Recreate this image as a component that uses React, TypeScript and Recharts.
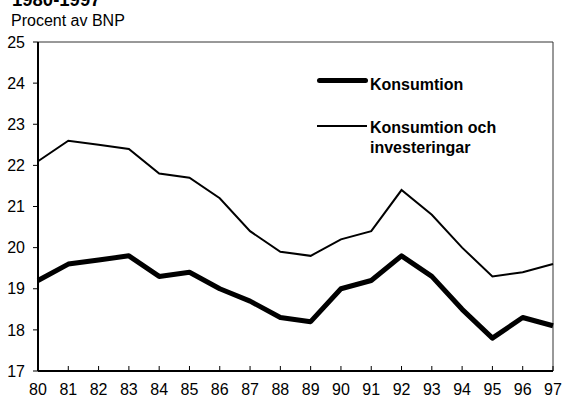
import { LineChart, Line, XAxis, YAxis, ReferenceLine, Legend } from 'recharts';

const years = [80, 81, 82, 83, 84, 85, 86, 87, 88, 89, 90, 91, 92, 93, 94, 95, 96, 97];
const konsumtion = [19.2, 19.6, 19.7, 19.8, 19.3, 19.4, 19.0, 18.7, 18.3, 18.2, 19.0, 19.2, 19.8, 19.3, 18.5, 17.8, 18.3, 18.1];
const konsInv = [22.1, 22.6, 22.5, 22.4, 21.8, 21.7, 21.2, 20.4, 19.9, 19.8, 20.2, 20.4, 21.4, 20.8, 20.0, 19.3, 19.4, 19.6];
const yTicks = [17, 18, 19, 20, 21, 22, 23, 24, 25];

const FONT = '"Liberation Sans", Arial, sans-serif';

const data = years.map((y, i) => ({ year: y, kons: konsumtion[i], konsInv: konsInv[i] }));

// tick mark points up into the plot, label sits below the axis
const XTick = (props: any) => {
  const { x, y, payload } = props;
  return (
    <g>
      <line x1={x} y1={y} x2={x} y2={y - 5} stroke="#000" strokeWidth={1} />
      <text x={x} y={y + 24} textAnchor="middle" fill="#000" fontSize={16} fontFamily={FONT}>
        {payload.value}
      </text>
    </g>
  );
};

const LegendBox = () => (
  <div style={{ fontFamily: FONT, fontWeight: 'bold', fontSize: 16, color: '#000', lineHeight: '20px' }}>
    <div style={{ display: 'flex', alignItems: 'flex-start' }}>
      <div style={{ width: 51, height: 5, background: '#000', borderRadius: 2.5, marginRight: 2, marginTop: 3 }} />
      <span>Konsumtion</span>
    </div>
    <div style={{ display: 'flex', alignItems: 'flex-start', marginTop: 23 }}>
      <div style={{ width: 50, height: 2, background: '#000', marginRight: 3, marginTop: 7 }} />
      <span>
        Konsumtion och
        <br />
        investeringar
      </span>
    </div>
  </div>
);

export default function App() {
  return (
    <div style={{ position: 'relative', width: 562, height: 405, background: '#fff' }}>
      <style>{'body { margin: 0; }'}</style>
      <div style={{ position: 'absolute', left: 12, top: -11, fontFamily: FONT, fontWeight: 'bold', fontSize: 18.5, lineHeight: '21px', whiteSpace: 'nowrap' }}>
        1980-1997
      </div>
      <div style={{ position: 'absolute', left: 11, top: 12, fontFamily: FONT, fontSize: 16, lineHeight: '18px', whiteSpace: 'nowrap' }}>
        Procent av BNP
      </div>
      <LineChart width={562} height={405} data={data} margin={{ top: 42, right: 9, bottom: 0, left: 0 }} style={{ overflow: 'visible' }}>
        <XAxis
          dataKey="year"
          type="number"
          domain={[80, 97]}
          ticks={years}
          interval={0}
          height={34}
          tickSize={0}
          tickMargin={0}
          tickLine={false}
          tick={<XTick />}
          axisLine={{ stroke: '#000', strokeWidth: 2 }}
        />
        <YAxis
          domain={[17, 25]}
          ticks={yTicks}
          width={38}
          tickSize={5}
          tickMargin={8}
          tickLine={{ stroke: '#000' }}
          axisLine={{ stroke: '#000', strokeWidth: 2 }}
          tick={{ fill: '#000', fontSize: 16, fontFamily: FONT }}
        />
        <ReferenceLine y={25} stroke="#333" strokeWidth={1} />
        <ReferenceLine x={97} stroke="#333" strokeWidth={1} />
        <Legend
          layout="vertical"
          align="center"
          verticalAlign="middle"
          content={<LegendBox />}
          wrapperStyle={{ top: 75, left: 317, width: 230 }}
        />
        <Line
          dataKey="konsInv"
          stroke="#000"
          strokeWidth={2}
          dot={false}
          isAnimationActive={false}
        />
        <Line
          dataKey="kons"
          stroke="#000"
          strokeWidth={5}
          dot={false}
          isAnimationActive={false}
          strokeLinejoin="round"
        />
      </LineChart>
    </div>
  );
}
